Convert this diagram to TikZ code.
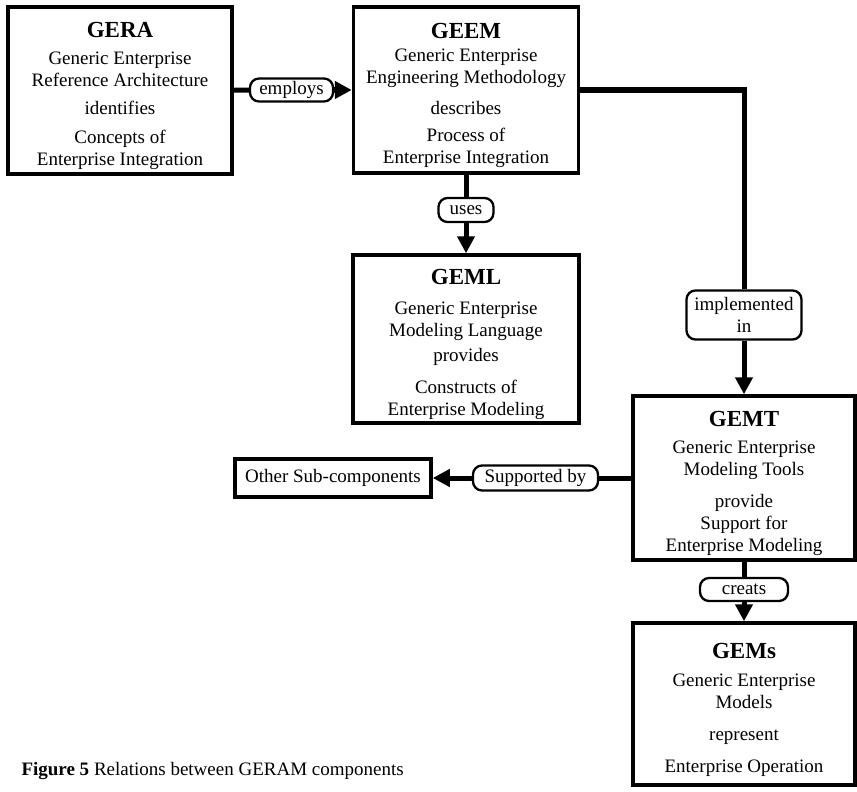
\documentclass[tikz,border=0pt]{standalone}
\usepackage{fontspec}
\setmainfont{Liberation Serif}
\usetikzlibrary{arrows.meta}
\newcommand{\comptitle}[1]{{\fontsize{23}{26}\selectfont\bfseries\rule{0pt}{27pt}#1}}
\begin{document}
\begin{tikzpicture}[x=1pt, y=-1pt, font=\fontsize{19}{22}\selectfont,
    comp/.style = {draw, line width=3.5pt, align=center, inner sep=0pt},
    rel/.style = {draw, line width=2.3pt, rounded corners=9pt, align=center, inner sep=0pt},
    link/.style = {line width=5pt},
    tip/.style = {-{Triangle[length=17pt, width=17pt]}}]
      \useasboundingbox (0,0) rectangle (857,792);
      \node[comp, minimum width=224, minimum height=167] (gera) at (120,90.5) {\comptitle{GERA}\\[5pt] Generic Enterprise\\ Reference Architecture\\[6pt] identifies\\[7pt] Concepts of\\ Enterprise Integration};
      \node[comp, minimum width=225, minimum height=166] (geem) at (466,90) {\comptitle{GEEM}\\[1pt] Generic Enterprise\\ Engineering Methodology\\[9pt] describes\\[5pt] Process of\\ Enterprise Integration};
      \node[comp, minimum width=226, minimum height=168] (geml) at (466,339) {\comptitle{GEML}\\[8pt] Generic Enterprise\\ Modeling Language\\[3pt] provides\\[10pt] Constructs of\\ Enterprise Modeling};
      \node[comp, minimum width=222, minimum height=164] (gemt) at (744,478) {\comptitle{GEMT}\\[5pt] Generic Enterprise\\ Modeling Tools\\[10pt] provide\\[0pt] Support for\\ Enterprise Modeling};
      \node[comp, minimum width=222, minimum height=162] (gems) at (744,704) {\comptitle{GEMs}\\[6pt] Generic Enterprise\\ Models\\[10pt] represent\\[10pt] Enterprise Operation};
      \node[comp, minimum width=196, minimum height=38] (other) at (333,478) {Other Sub-components};

      \node[rel, minimum width=83, minimum height=23] (employs) at (291.5,90) {employs};
      \node[rel, minimum width=55, minimum height=24] (uses) at (466,210) {uses};
      \node[rel, minimum width=115, minimum height=49] (implin) at (744,315) {implemented\\ in};
      \node[rel, minimum width=125, minimum height=25] (suppby) at (535.5,478) {Supported by};
      \node[rel, minimum width=88, minimum height=23] (creats) at (744,589.5) {creats};

      \node[anchor=west] (caption) at (18,771) {\textbf{Figure 5} Relations between GERAM components};

      \path[link]
      (gera) edge (employs)
      (employs) edge[tip] (geem)
      (geem) edge (uses)
      (uses) edge[tip] (geml)
      (implin) edge[tip] (gemt)
      (gemt) edge (suppby)
      (suppby) edge[tip] (other)
      (gemt) edge (creats)
      (creats) edge[tip] (gems);
      \draw[link] (geem) -| (implin);
    \end{tikzpicture}
\end{document}
